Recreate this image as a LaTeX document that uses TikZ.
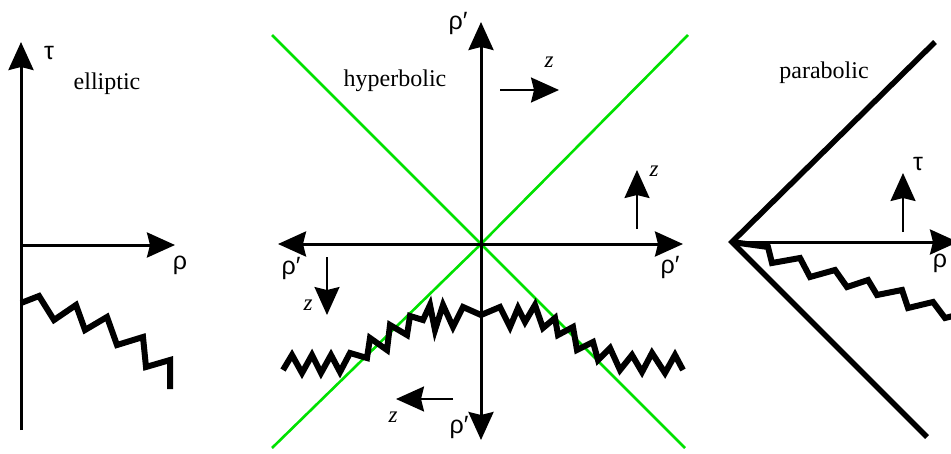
\documentclass[tikz,border=0pt]{standalone}
\usepackage{fontspec}
\setmainfont{Liberation Serif}
\newfontfamily\greekfont{Liberation Sans}
\usetikzlibrary{arrows.meta}
\definecolor{lgreen}{RGB}{0,225,0}
\tikzset{
  tip/.tip={Stealth[length=28pt,width=25pt,inset=3pt]},
  axis/.style={line width=3pt,-tip},
  dblaxis/.style={line width=3pt,tip-tip},
  dir/.style={line width=2pt,-tip},
  zig/.style={line width=6pt,line join=miter,miter limit=10},
  wedge/.style={line width=5.5pt,line join=miter,miter limit=10},
  cone/.style={line width=2.6pt,lgreen},
  lbl/.style={font=\fontsize{24}{26}\selectfont,inner sep=0pt},
  gk/.style={font=\greekfont\fontsize{25}{27}\selectfont,inner sep=0pt},
  zl/.style={font=\fontsize{23}{25}\selectfont\itshape,inner sep=0pt}
}
\begin{document}
\begin{tikzpicture}[x=1pt,y=-1pt]
\useasboundingbox (0,0) rectangle (951,453);
\clip (0,0) rectangle (951,453);
% ---------- elliptic ----------
\coordinate (eO) at (21,245);
\coordinate (eB) at (21,430);
\coordinate (eT) at (21,42);
\coordinate (eR) at (175,245);
\draw[axis] (eB) -- (eT);
\draw[axis] (eO) -- (eR);
\node[gk] (etau) at (49,53) {τ};
\node[gk] (erho) at (180,265) {ρ};
\node[lbl] (ell) at (107,84) {elliptic};
\draw[zig] (21,303) -- (39,296) -- (54,320) -- (76,305) -- (85,330) -- (107,317)
  -- (117,345) -- (143,337) -- (146,367) -- (170,360) -- (170,389);
% ---------- hyperbolic ----------
\coordinate (hO) at (481,244);
\coordinate (hT) at (481,22);
\coordinate (hB) at (481,440);
\coordinate (hL) at (278,244);
\coordinate (hR) at (683,244);
\coordinate (gUL) at (272,35);
\coordinate (gLR) at (685,448);
\coordinate (gUR) at (688,35);
\coordinate (gLL) at (272,448);
\draw[cone] (gUL) -- (hO) -- (gLR);
\draw[cone] (gUR) -- (hO) -- (gLL);
\draw[dblaxis] (hB) -- (hT);
\draw[dblaxis] (hL) -- (hR);
\node[gk] (rt) at (458,23) {ρ′};
\node[gk] (rl) at (291,268) {ρ′};
\node[gk] (rr) at (670,267) {ρ′};
\node[gk] (rb) at (459,427) {ρ′};
\node[lbl] (hyp) at (395,81) {hyperbolic};
\coordinate (z1a) at (500,90);  \coordinate (z1b) at (559,90);
\coordinate (z2a) at (637,229); \coordinate (z2b) at (637,170);
\coordinate (z3a) at (327,257); \coordinate (z3b) at (327,315);
\coordinate (z4a) at (453,399); \coordinate (z4b) at (396,399);
\draw[dir] (z1a) -- (z1b);
\draw[dir] (z2a) -- (z2b);
\draw[dir] (z3a) -- (z3b);
\draw[dir] (z4a) -- (z4b);
\node[zl] (zt1) at (549,62) {z};
\node[zl] (zt2) at (654,171) {z};
\node[zl] (zt3) at (308,305) {z};
\node[zl] (zt4) at (393,417) {z};
\draw[zig] (283,370) -- (292,355) -- (302,373) -- (312,355) -- (321,373) -- (331,355)
  -- (340,372) -- (350,353) -- (367,358) -- (370,338) -- (387,350) -- (390,325)
  -- (407,335) -- (410,316) -- (423,320) -- (430,305) -- (435,330) -- (443,305)
  -- (453,327) -- (463,307) -- (481,315)
  -- (500,307) -- (510,327) -- (518,308) -- (525,322) -- (535,305) -- (543,328)
  -- (555,318) -- (558,335) -- (573,327) -- (577,350) -- (593,342) -- (598,360)
  -- (610,348) -- (620,370) -- (632,355) -- (642,372) -- (652,353) -- (665,373)
  -- (675,355) -- (683,370);
% ---------- parabolic ----------
\coordinate (pV) at (732,242);
\coordinate (pU) at (935,42);
\coordinate (pD) at (927,437);
\coordinate (pR) at (958,242);
\coordinate (pta) at (903,232);
\coordinate (ptb) at (903,173);
\draw[wedge] (pU) -- (pV) -- (pD);
\draw[axis] (pV) -- (pR);
\draw[dir] (pta) -- (ptb);
\node[gk] (ptau) at (918,164) {τ};
\node[gk] (prho) at (940,263) {ρ};
\node[lbl] (par) at (824,73) {parabolic};
\draw[zig] (pV) -- (768,247) -- (772,263) -- (800,258) -- (810,277) -- (835,270)
  -- (847,287) -- (868,280) -- (877,295) -- (902,290) -- (908,308) -- (933,302)
  -- (945,318) -- (965,313);
\end{tikzpicture}
\end{document}
